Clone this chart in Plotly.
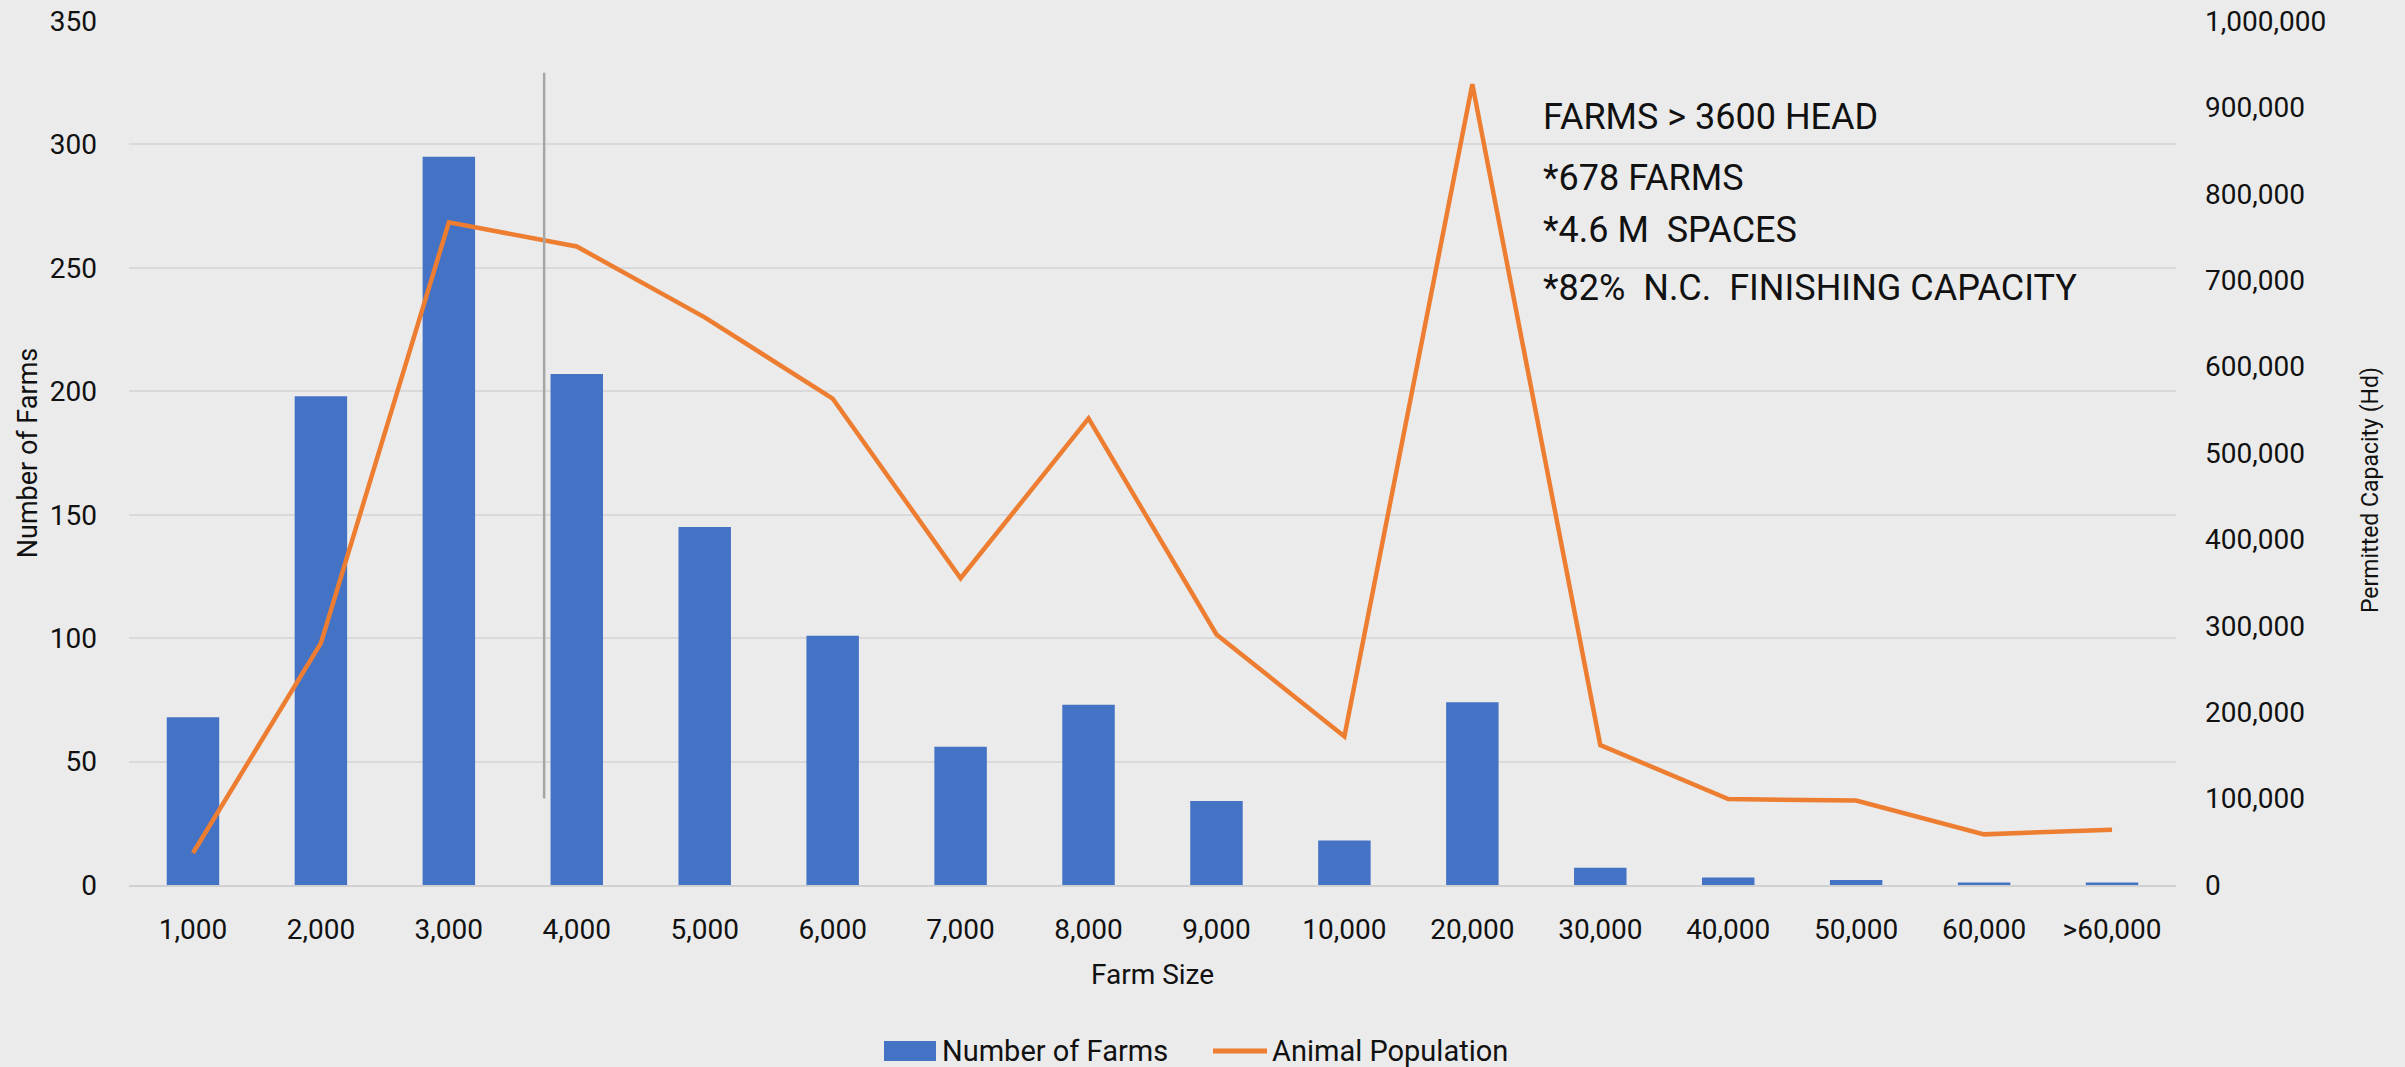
import plotly.graph_objects as go

categories = ["1,000", "2,000", "3,000", "4,000", "5,000", "6,000", "7,000", "8,000",
              "9,000", "10,000", "20,000", "30,000", "40,000", "50,000", "60,000", ">60,000"]
num_farms = [68, 198, 295, 207, 145, 101, 56, 73, 34, 18, 74, 7, 3, 2, 1, 1]
animal_population = [37000, 280000, 767000, 739000, 657000, 563000, 355000, 540000,
                     290000, 172000, 927000, 162000, 99500, 97700, 58600, 64000]
note_lines = ["FARMS > 3600 HEAD", "*678 FARMS", "*4.6 M  SPACES", "*82%  N.C.  FINISHING CAPACITY"]
series_names = ["Number of Farms", "Animal Population"]

FONT = "Roboto, Open Sans, sans-serif"
BG = "#ebebeb"
GRID = "#d9d9d9"
TXT = "#111111"
BAR_C = "#4472C4"
LINE_C = "#ED7D31"

# plot area in pixels
L, R, T, B = 129, 2176, 21, 885
W, H = R - L, B - T


def px_x(p):
    return (p - L) / W


def px_y(p):
    return (B - p) / H


fig = go.Figure()
fig.add_trace(go.Bar(x=categories, y=num_farms, name=series_names[0],
                     marker=dict(color=BAR_C, line=dict(width=0)), yaxis="y"))
fig.add_trace(go.Scatter(x=categories, y=animal_population, name=series_names[1],
                         mode="lines", line=dict(color=LINE_C, width=4.5), yaxis="y2"))

fig.update_layout(
    width=2405, height=1067,
    margin=dict(l=L, r=2405 - R, t=T, b=1067 - B, autoexpand=False),
    paper_bgcolor=BG, plot_bgcolor=BG,
    bargap=0.59,
    showlegend=False,
    xaxis=dict(type="category", showgrid=False, showline=True, linecolor="#d0d0d0", linewidth=2,
               automargin=False,
               tickfont=dict(family=FONT, size=28, color=TXT), ticks="",
               ticklabelstandoff=18,
               title=dict(text="Farm Size", font=dict(family=FONT, size=28, color=TXT), standoff=20)),
    yaxis=dict(range=[0, 350], dtick=50, showgrid=True, gridcolor=GRID, gridwidth=1.5, zeroline=False,
               automargin=False,
               tickfont=dict(family=FONT, size=28, color=TXT), ticklabelstandoff=31,
               title=dict(text="Number of Farms", font=dict(family=FONT, size=27, color=TXT), standoff=4)),
    yaxis2=dict(range=[0, 1000000], dtick=100000, overlaying="y", side="right", showgrid=False,
                zeroline=False, tickformat=",", ticklabelstandoff=28, automargin=False,
                tickfont=dict(family=FONT, size=28, color=TXT)),
)

# right axis title
fig.add_annotation(text="Permitted Capacity (Hd)", textangle=-90, xref="paper", yref="paper",
                   x=px_x(2370), y=px_y(490), xanchor="center", yanchor="middle", showarrow=False,
                   font=dict(family=FONT, size=23, color=TXT))

# vertical marker line
fig.add_shape(type="line", xref="x", yref="y", x0=2.745, x1=2.745, y0=35, y1=329,
              line=dict(color="#a6a6a6", width=2.5))

# note text
ys = [117, 178, 230, 288]
for txt, py in zip(note_lines, ys):
    fig.add_annotation(text=txt, xref="paper", yref="paper", x=px_x(1541),
                       y=px_y(py), xanchor="left", yanchor="middle", showarrow=False,
                       font=dict(family=FONT, size=36, color=TXT))

# legend (drawn to match the wide swatch style)
ly = px_y(1051)
fig.add_shape(type="rect", xref="paper", yref="paper", x0=px_x(884), x1=px_x(936),
              y0=px_y(1061), y1=px_y(1041), fillcolor=BAR_C, line=dict(width=0))
fig.add_annotation(text=series_names[0], xref="paper", yref="paper", x=px_x(940), y=ly,
                   xanchor="left", yanchor="middle", showarrow=False,
                   font=dict(family=FONT, size=29, color=TXT))
fig.add_shape(type="line", xref="paper", yref="paper", x0=px_x(1213), x1=px_x(1267),
              y0=ly, y1=ly, line=dict(color=LINE_C, width=5))
fig.add_annotation(text=series_names[1], xref="paper", yref="paper", x=px_x(1270), y=ly,
                   xanchor="left", yanchor="middle", showarrow=False,
                   font=dict(family=FONT, size=29, color=TXT))

fig.write_html("out.html")
